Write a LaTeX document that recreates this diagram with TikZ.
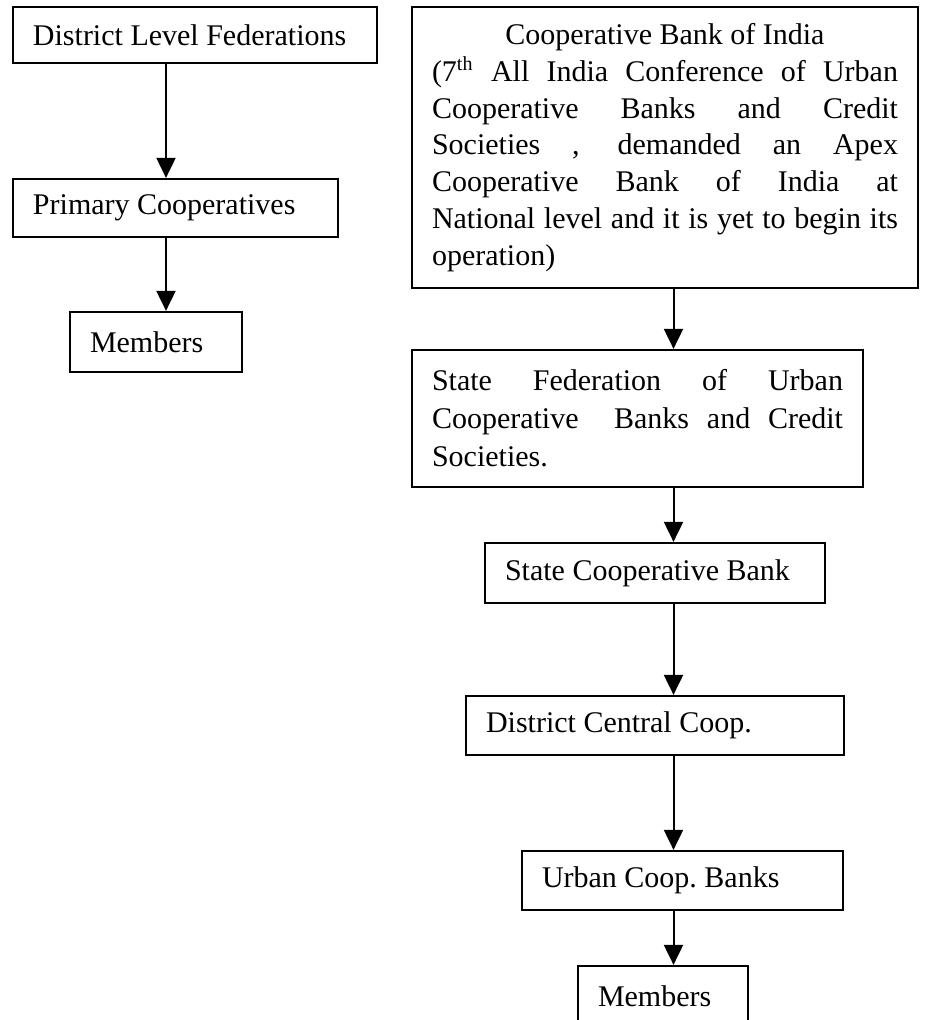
\documentclass[tikz,border=0pt]{standalone}
\usepackage{fontspec}
\setmainfont{Liberation Serif}
\usetikzlibrary{arrows.meta}
\tolerance=10000
\hbadness=10000

\tikzset{
  box/.style={draw, line width=0.9pt, inner xsep=8pt, inner ysep=3pt, align=flush left,
    font=\fontsize{12}{14.7}\selectfont},
  para/.style={box, align=justify},
  arr/.style={line width=0.8pt, -{Triangle[width=7.6pt,length=8pt]}}
}

\begin{document}
\begin{tikzpicture}[x=0.4pt,y=-0.4pt]
\useasboundingbox (0,0) rectangle (932,1020);
\clip (0,0) rectangle (932,1020);

% left column
\node[box, text width=129.6pt, minimum height=22.4pt] (dlf) at (195,35) {District Level Federations};
\node[box, text width=114pt, minimum height=23.2pt] (pc) at (175.5,208) {Primary Cooperatives};
\node[box, text width=52.8pt, minimum height=24pt] (lmem) at (156,342) {Members};

% right column
\node[para, text width=186.4pt, minimum height=112.4pt] (cbi) at (665,147.5) {%
\makebox[\linewidth]{Cooperative Bank of India}\par
(7\textsuperscript{th} All India Conference of Urban\linebreak
Cooperative Banks and Credit\linebreak
Societies , demanded an Apex\linebreak
Cooperative Bank of India at\linebreak
National level and it is yet to begin its\linebreak
operation)};
\node[para, text width=164.4pt, minimum height=54.8pt,
  font=\fontsize{12}{15.2}\selectfont] (sfu) at (637.5,418.5) {%
State Federation of Urban\linebreak
Cooperative\ \ Banks and Credit\linebreak
Societies.};
\node[box, text width=120pt, minimum height=24pt] (scb) at (655,573) {State Cooperative Bank};
\node[box, text width=135.2pt, minimum height=23.6pt] (dcc) at (655,725.5) {District Central Coop.};
\node[box, text width=112.4pt, minimum height=23.6pt] (ucb) at (682.5,880.5) {Urban Coop.\ Banks};
\node[box, text width=52pt, minimum height=24pt] (rmem) at (663,996) {Members};

\coordinate (lcol) at (166,0);
\coordinate (rcol) at (673.5,0);

\draw[arr] (dlf.south -| lcol) -- (pc.north -| lcol);
\draw[arr] (pc.south -| lcol) -- (lmem.north -| lcol);

\draw[arr] (cbi.south -| rcol) -- (sfu.north -| rcol);
\draw[arr] (sfu.south -| rcol) -- (scb.north -| rcol);
\draw[arr] (scb.south -| rcol) -- (dcc.north -| rcol);
\draw[arr] (dcc.south -| rcol) -- (ucb.north -| rcol);
\draw[arr] (ucb.south -| rcol) -- (rmem.north -| rcol);
\end{tikzpicture}
\end{document}
